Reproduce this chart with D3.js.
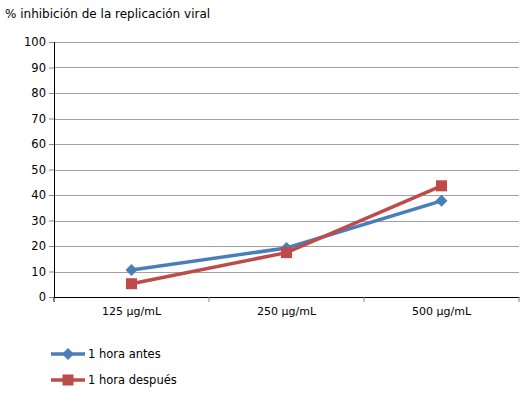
<!DOCTYPE html>
<html>
<head>
<meta charset="utf-8">
<script src="https://cdn.jsdelivr.net/npm/d3@7"></script>
<style>
  body { margin: 0; background: #fff; }
  text { font-family: "DejaVu Sans", Verdana, sans-serif; font-size: 11px; fill: #000; }
</style>
</head>
<body>
<div id="viz"></div>
<script>
const categories = ['125 µg/mL', '250 µg/mL', '500 µg/mL'];
const antes = [10.6, 19.2, 37.7];
const despues = [5.2, 17.4, 43.6];
const seriesNames = ['1 hora antes', '1 hora después'];
const yTicks = [0, 10, 20, 30, 40, 50, 60, 70, 80, 90, 100];
const colorBlue = '#4a7ebb';
const colorRed = '#be4b48';

let dimensions = {
  width: 530,
  height: 395,
  margin: { top: 42, right: 11, bottom: 98, left: 54 },
}
dimensions.boundedWidth = dimensions.width - dimensions.margin.left - dimensions.margin.right
dimensions.boundedHeight = dimensions.height - dimensions.margin.top - dimensions.margin.bottom

const wrapper = d3.select('#viz').append('svg')
  .attr('width', dimensions.width)
  .attr('height', dimensions.height)

wrapper.append('text')
  .attr('x', 5).attr('y', 18)
  .style('font-size', '12px')
  .text('% inhibición de la replicación viral')

const chart = wrapper.append('g')
  .attr('transform', `translate(${dimensions.margin.left},${dimensions.margin.top})`)

const yScale = d3.scaleLinear().domain([0, 100]).range([dimensions.boundedHeight, 0])
const xScale = d3.scaleBand().domain(categories).range([0, dimensions.boundedWidth])

// gridlines
chart.append('g').selectAll('line')
  .data(yTicks.filter(d => d > 0))
  .join('line')
  .attr('x1', 0).attr('x2', dimensions.boundedWidth)
  .attr('y1', d => Math.round(yScale(d)) + 0.5)
  .attr('y2', d => Math.round(yScale(d)) + 0.5)
  .attr('stroke', '#a0a0a0')

// y axis
const yAxis = chart.append('g')
  .call(d3.axisLeft(yScale).tickValues(yTicks).tickSize(5).tickPadding(3))
yAxis.select('.domain').attr('stroke', '#000')
yAxis.selectAll('.tick line').attr('stroke', '#888')
yAxis.selectAll('text').style('font-size', '11.5px')

// x axis
const xAxis = chart.append('g')
  .attr('transform', `translate(0,${dimensions.boundedHeight})`)
  .call(d3.axisBottom(xScale).tickSize(0).tickPadding(10))
xAxis.select('.domain').attr('stroke', '#000')
xAxis.selectAll('text').style('font-size', '11px')
// category separators
xAxis.append('g').selectAll('line')
  .data(d3.range(categories.length + 1))
  .join('line')
  .attr('x1', i => i * xScale.step()).attr('x2', i => i * xScale.step())
  .attr('y1', 0).attr('y2', 5)
  .attr('stroke', i => i === 0 ? '#000' : '#888')

const line = d3.line()
  .x((d, i) => xScale(categories[i]) + xScale.bandwidth() / 2)
  .y(d => yScale(d))

// diamond marker, equal width and height
const diamondPath = 'M0,-6L6,0L0,6L-6,0Z'

function drawSeries(values, color, marker) {
  chart.append('path')
    .attr('d', line(values))
    .attr('fill', 'none')
    .attr('stroke', color)
    .attr('stroke-width', 3.5)
  const g = chart.append('g')
  values.forEach((v, i) => {
    const cx = xScale(categories[i]) + xScale.bandwidth() / 2
    const cy = yScale(v)
    if (marker === 'diamond') {
      g.append('path').attr('d', diamondPath)
        .attr('transform', `translate(${cx},${cy})`)
        .attr('fill', color)
    } else {
      g.append('rect').attr('x', cx - 5.5).attr('y', cy - 5.5)
        .attr('width', 11).attr('height', 11)
        .attr('fill', color)
    }
  })
}

drawSeries(antes, colorBlue, 'diamond')
drawSeries(despues, colorRed, 'square')

// legend
const legend = wrapper.append('g')
const legendItems = [
  { name: seriesNames[0], color: colorBlue, marker: 'diamond', y: 354 },
  { name: seriesNames[1], color: colorRed, marker: 'square', y: 380 },
]
legendItems.forEach(item => {
  legend.append('line')
    .attr('x1', 51).attr('x2', 85)
    .attr('y1', item.y).attr('y2', item.y)
    .attr('stroke', item.color).attr('stroke-width', 3.5)
  if (item.marker === 'diamond') {
    legend.append('path').attr('d', diamondPath)
      .attr('transform', `translate(68,${item.y})`)
      .attr('fill', item.color)
  } else {
    legend.append('rect').attr('x', 62.5).attr('y', item.y - 5.5)
      .attr('width', 11).attr('height', 11).attr('fill', item.color)
  }
  legend.append('text')
    .attr('x', 88).attr('y', item.y + 4)
    .style('font-size', '11.5px')
    .text(item.name)
})
</script>
</body>
</html>
